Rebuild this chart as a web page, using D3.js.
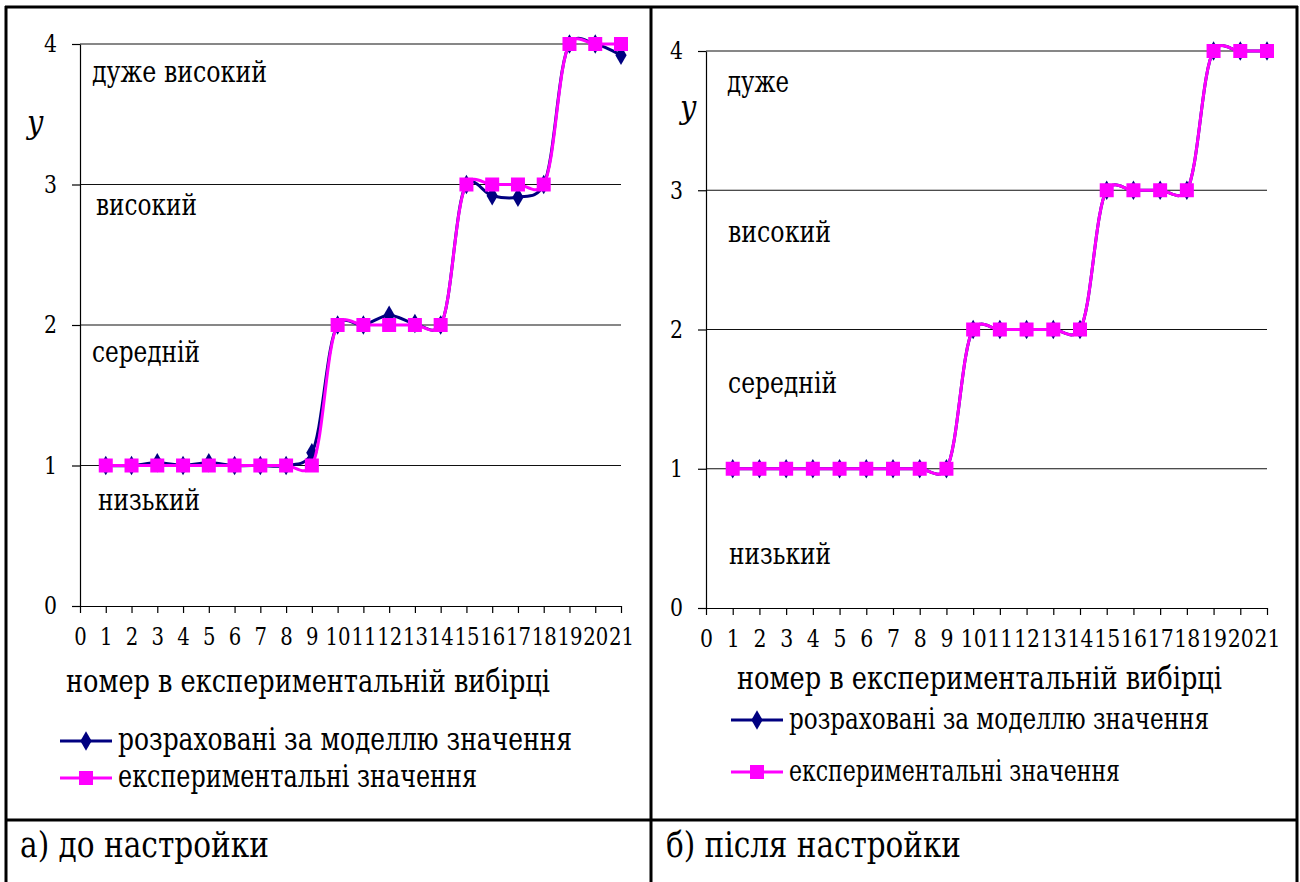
<!DOCTYPE html>
<html><head><meta charset="utf-8">
<script src="https://cdn.jsdelivr.net/npm/d3@7"></script>
</head><body style="margin:0;background:#fff">
<svg id="chart" width="1300" height="882"></svg>
<script>
// ---- data ----
const sampleNumbers = [1,2,3,4,5,6,7,8,9,10,11,12,13,14,15,16,17,18,19,20,21];
const experimentalValues = [1,1,1,1,1,1,1,1,1,2,2,2,2,2,3,3,3,3,4,4,4];
const modelBefore = [1,1,1.02,1,1.02,1,1,1,1.09,2,2,2.07,2.01,2,3,2.92,2.91,3,4,4,3.92];
const modelAfter  = [1,1,1,1,1,1,1,1,1,2,2,2,2,2,3,3,3,3,4,4,4];
const xTickLabels = ["0","1","2","3","4","5","6","7","8","9","10","11","12","13","14","15","16","17","18","19","20","21"];
const yTickValues = [0,1,2,3,4];
const levelNamesBefore = ["низький","середній","високий","дуже високий"];
const levelNamesAfter  = ["низький","середній","високий","дуже"];
const seriesNames = ["розраховані за моделлю значення","експериментальні значення"];
const xTitle = "номер в експериментальній вибірці";
const yTitle = "y";
const panelCaptions = ["а) до настройки","б) після настройки"];

const NAVY = "#000080", MAGENTA = "#FF00FF";
const FONT = "'DejaVu Serif Condensed', 'DejaVu Serif', serif";
const svg = d3.select("#chart");
function txt(sel, w){
  sel.style("font-family", FONT).style("font-stretch","condensed").attr("fill","#000");
  if (w) sel.attr("textLength", w).attr("lengthAdjust","spacingAndGlyphs");
  return sel;
}

// table borders
const border = svg.append("g").attr("stroke","#000").attr("stroke-width",3).attr("fill","none");
border.append("line").attr("x1",5).attr("x2",1298).attr("y1",7).attr("y2",7);
border.append("line").attr("x1",6).attr("x2",6).attr("y1",6).attr("y2",882);
border.append("line").attr("x1",651).attr("x2",651).attr("y1",6).attr("y2",882);
border.append("line").attr("x1",1297).attr("x2",1297).attr("y1",6).attr("y2",882);
border.append("line").attr("x1",5).attr("x2",1298).attr("y1",820).attr("y2",820);

function panel(cfg){
  const g = svg.append("g");
  const x = d3.scaleLinear().domain([0,21]).range([cfg.left,cfg.right]);
  const y = d3.scaleLinear().domain([0,4]).range([cfg.bottom,cfg.top]);

  g.append("g").selectAll("line").data(yTickValues.filter(v=>v>0)).join("line")
    .attr("x1",x(0)).attr("x2",x(21)).attr("y1",d=>y(d)).attr("y2",d=>y(d))
    .attr("stroke","#111").attr("stroke-width",1.2);

  const ya = g.append("g").attr("transform",`translate(${x(0)},0)`)
    .call(d3.axisLeft(y).tickValues(yTickValues).tickSize(8).tickSizeOuter(0).tickPadding(cfg.yPad).tickFormat(d3.format("d")));
  ya.select(".domain").attr("stroke","#000").attr("stroke-width",1.2);
  ya.selectAll(".tick line").attr("stroke","#000").attr("stroke-width",1.2);
  ya.selectAll("text").each(function(){ txt(d3.select(this), 13); }).attr("font-size",24.5);

  const xa = g.append("g").attr("transform",`translate(0,${y(0)})`)
    .call(d3.axisBottom(x).tickValues(d3.range(xTickLabels.length)).tickFormat(i=>xTickLabels[i]).tickSize(7).tickSizeOuter(0).tickPadding(15));
  xa.select(".domain").attr("stroke","#000").attr("stroke-width",1.2);
  xa.selectAll(".tick line").attr("stroke","#000").attr("stroke-width",1.2);
  xa.selectAll("text").each(function(d){ txt(d3.select(this), xTickLabels[d].length*cfg.digitW); }).attr("font-size",24.5);

  cfg.levelNames.forEach((name,i)=>{
    txt(g.append("text"), cfg.levelW[i]).attr("x",cfg.levelX[i]).attr("y",y(i+1)+cfg.levelDy[i])
      .attr("font-size",29).attr("dy","0.35em").text(name);
  });

  txt(g.append("text")).attr("x",cfg.yTitleX).attr("y",cfg.yTitleY).attr("font-size",32)
    .attr("font-style","italic").text(yTitle);

  txt(g.append("text"), cfg.xTitleW).attr("x",cfg.xTitleX).attr("y",cfg.xTitleY).attr("font-size",31).attr("dy","0.3em").text(xTitle);

  const line = d3.line().x((d,i)=>x(sampleNumbers[i])).y(d=>y(d)).curve(d3.curveCatmullRom.alpha(0.25));

  g.append("path").datum(cfg.model).attr("d",line).attr("fill","none").attr("stroke",NAVY).attr("stroke-width",3);
  const diamond = d3.symbol().type(d3.symbolDiamond).size(110);
  g.append("g").selectAll("path").data(cfg.model).join("path")
    .attr("transform",(d,i)=>`translate(${x(sampleNumbers[i])},${y(d)})`)
    .attr("d",diamond).attr("fill",NAVY);

  g.append("path").datum(experimentalValues).attr("d",line).attr("fill","none").attr("stroke",MAGENTA).attr("stroke-width",3);
  g.append("g").selectAll("rect").data(experimentalValues).join("rect")
    .attr("x",(d,i)=>x(sampleNumbers[i])-7).attr("y",d=>y(d)-7).attr("width",14).attr("height",14).attr("fill",MAGENTA);

  const colors = [NAVY, MAGENTA];
  seriesNames.forEach((name,i)=>{
    const ly = cfg.legendY[i];
    g.append("line").attr("x1",cfg.legendX).attr("x2",cfg.legendX+52).attr("y1",ly).attr("y2",ly)
      .attr("stroke",colors[i]).attr("stroke-width",3);
    if(i===0){
      g.append("path").attr("transform",`translate(${cfg.legendX+26},${ly})`).attr("d",diamond).attr("fill",NAVY);
    } else {
      g.append("rect").attr("x",cfg.legendX+19).attr("y",ly-7).attr("width",14).attr("height",14).attr("fill",MAGENTA);
    }
    txt(g.append("text"), cfg.legendW[i]).attr("x",cfg.legendX+58).attr("y",ly).attr("dy","0.3em").attr("font-size",cfg.legendFont).text(name);
  });

  txt(g.append("text"), cfg.captionW).attr("x",cfg.captionX).attr("y",845).attr("dy","0.33em").attr("font-size",35).text(cfg.caption);
}

panel({left:80,right:621,top:44,bottom:606,yPad:15,digitW:12.5,
  levelNames:levelNamesBefore, levelX:[98,92,96,92], levelDy:[34,27,20,28], levelW:[102,108,101,175],
  yTitleX:27,yTitleY:133, xTitleX:66,xTitleY:683,xTitleW:484,
  model:modelBefore, legendX:60, legendY:[741,778], legendFont:31, legendW:[454,359],
  captionX:20, captionW:249, caption:panelCaptions[0]});

panel({left:706,right:1267,top:51,bottom:608,yPad:15,digitW:13,
  levelNames:levelNamesAfter, levelX:[729,728,728,727], levelDy:[85,53,42,31], levelW:[102,109,103,62],
  yTitleX:680,yTitleY:118, xTitleX:737,xTitleY:680,xTitleW:485,
  model:modelAfter, legendX:731, legendY:[720,772], legendFont:29, legendW:[420,331],
  captionX:666, captionW:295, caption:panelCaptions[1]});
</script>
</body></html>
